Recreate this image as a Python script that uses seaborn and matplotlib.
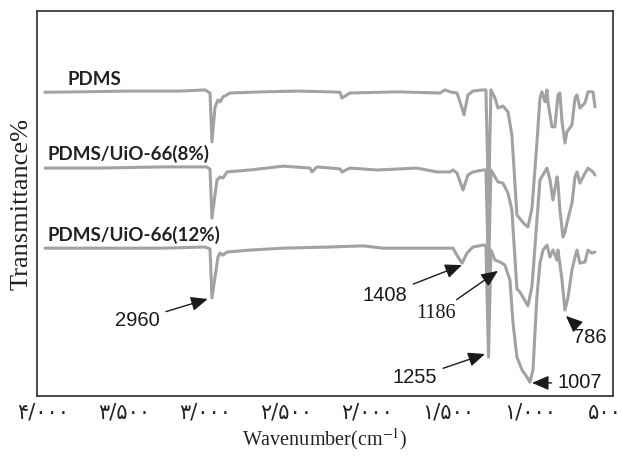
import matplotlib
matplotlib.use("Agg")
import matplotlib.pyplot as plt
import matplotlib.transforms as mtransforms
import pandas as pd
import seaborn as sns

# ---------------- data ----------------
samples = ["PDMS", "PDMS/UiO-66(8%)", "PDMS/UiO-66(12%)"]

pdms_wn = [3988, 3772, 3464, 3156, 3002, 2971, 2959, 2940, 2922, 2909, 2891, 2848, 2645, 2435,
           2232, 2170, 2158, 2109, 1819, 1554, 1523, 1492, 1449, 1418, 1406, 1382, 1351, 1289,
           1271, 1255, 1240, 1215, 1197, 1166, 1135, 1111, 1080, 1061, 1030, 1012, 987, 957,
           938, 926, 907, 895, 889, 864, 846, 827, 815, 802, 784, 772, 741, 722, 710, 692,
           661, 642, 611, 599]
pdms_t = [78.9, 79.0, 79.2, 79.2, 79.5, 78.7, 66.0, 75.1, 76.9, 76.4, 77.7, 78.7, 79.0, 79.2,
          79.0, 78.9, 77.4, 78.7, 79.0, 78.7, 79.5, 79.0, 78.7, 74.8, 73.0, 78.2, 79.2, 79.5,
          79.5, 50.1, 79.5, 77.4, 74.8, 75.3, 73.8, 67.8, 47.0, 46.0, 44.5, 43.9, 48.8, 65.7,
          77.4, 79.0, 76.4, 79.5, 76.4, 69.9, 69.9, 78.2, 78.7, 71.2, 65.7, 68.6, 70.4, 77.4,
          78.2, 74.8, 76.1, 79.0, 79.0, 75.1]

uio8_wn = [3988, 3667, 3261, 2990, 2971, 2959, 2928, 2909, 2891, 2866, 2725, 2521, 2355, 2343,
           2312, 2170, 2158, 2109, 1942, 1696, 1573, 1492, 1474, 1449, 1412, 1382, 1351, 1289,
           1271, 1255, 1240, 1197, 1166, 1135, 1111, 1080, 1061, 1030, 1012, 987, 957, 938,
           895, 876, 858, 833, 827, 815, 796, 784, 772, 741, 722, 710, 692, 673, 642, 611, 599]
uio8_t = [59.2, 59.2, 59.5, 59.5, 58.9, 46.2, 56.1, 56.9, 56.6, 58.2, 58.7, 59.7, 59.2, 58.2,
          59.5, 59.0, 58.2, 59.2, 58.7, 59.2, 58.2, 58.2, 58.7, 57.9, 53.5, 57.4, 58.2, 58.7,
          58.7, 31.9, 58.7, 55.6, 55.3, 52.7, 48.3, 27.8, 27.0, 24.7, 23.4, 28.6, 45.5, 56.1,
          59.2, 56.1, 50.9, 56.9, 55.3, 48.3, 41.3, 42.6, 44.9, 50.1, 56.9, 58.2, 55.3, 56.9,
          59.2, 58.2, 57.4]

uio12_wn = [3988, 3464, 3261, 3002, 2971, 2959, 2922, 2909, 2891, 2866, 2725, 2521, 2232, 2028,
            1905, 1696, 1492, 1474, 1443, 1418, 1388, 1351, 1289, 1271, 1255, 1240, 1215, 1184,
            1154, 1123, 1104, 1080, 1049, 1018, 1000, 981, 957, 938, 919, 895, 876, 858, 833,
            827, 802, 784, 765, 741, 722, 710, 692, 661, 642, 618, 599]
uio12_t = [38.4, 38.4, 38.4, 38.7, 38.2, 25.5, 36.1, 37.1, 36.6, 37.4, 37.9, 38.4, 38.7, 39.0,
           38.4, 38.4, 38.4, 38.4, 36.1, 34.5, 37.1, 38.7, 39.2, 39.2, 10.1, 37.9, 35.3, 34.8,
           34.0, 30.1, 19.0, 10.1, 6.8, 4.9, 3.6, 6.8, 25.7, 34.5, 37.9, 39.2, 36.1, 37.9, 35.3,
           37.9, 30.1, 22.3, 25.7, 32.7, 36.1, 37.9, 34.5, 34.8, 37.9, 37.1, 37.4]

tick_values = [4000, 3500, 3000, 2500, 2000, 1500, 1000, 500]
tick_labels = ["۴/۰۰۰", "۳/۵۰۰", "۳/۰۰۰", "۲/۵۰۰", "۲/۰۰۰", "۱/۵۰۰", "۱/۰۰۰", "۵۰۰"]

peak_labels = ["2960", "1408", "1186", "1255", "1007", "786"]

# ---------------- figure ----------------
sns.set_theme(style="white")
plt.rcParams["mathtext.fontset"] = "stix"

df = pd.concat([
    pd.DataFrame({"wavenumber": pdms_wn, "transmittance": pdms_t, "sample": samples[0]}),
    pd.DataFrame({"wavenumber": uio8_wn, "transmittance": uio8_t, "sample": samples[1]}),
    pd.DataFrame({"wavenumber": uio12_wn, "transmittance": uio12_t, "sample": samples[2]}),
])

fig = plt.figure(figsize=(6.22, 4.57), dpi=100)
ax = fig.add_axes([37 / 622, 1 - 396 / 457, 576 / 622, 385 / 457])

line_grey = "#a2a2a2"
sns.lineplot(data=df, x="wavenumber", y="transmittance", hue="sample",
             palette={s: line_grey for s in samples}, estimator=None, sort=False,
             legend=False, linewidth=2.2, ax=ax)

ax.set_xlim(4037, 488)
ax.set_ylim(0, 100)
ax.set_yticks([])
ax.set_xticks(tick_values)
ax.set_xticklabels(tick_labels, fontsize=15, family=["DejaVu Sans"], color="#222222")
ax.tick_params(axis="x", length=0, pad=5)
# keep the last label inside the figure
last = ax.get_xticklabels()[-1]
last.set_transform(last.get_transform() +
                   mtransforms.ScaledTranslation(-6 / 100, 0, fig.dpi_scale_trans))

for sp in ax.spines.values():
    sp.set_color("#3a3a3a")
    sp.set_linewidth(1.3)

ax.set_xlabel("Wavenumber(cm$^{-1}$)", family="Liberation Serif", fontsize=14.5,
              color="#222222", labelpad=2)
ax.set_ylabel("Transmittance%", family="Liberation Serif", fontsize=19, color="#222222")
ax.yaxis.set_label_coords(-0.008, 0.5)

# sample names
name_kw = dict(family=["Lato", "DejaVu Sans"], fontweight="bold", fontsize=13.5,
               color="#222222", va="center", ha="left")
ax.text(3852, 82.1, samples[0], **name_kw)
ax.text(3975, 62.8, samples[1], **name_kw)
ax.text(3975, 41.8, samples[2], **name_kw)

# peak annotations
arrow = dict(arrowstyle="-|>,head_length=0.7,head_width=0.3", color="#1a1a1a", lw=1.0,
             shrinkA=2, shrinkB=0)
sans = dict(family="Liberation Sans", fontsize=14.5, color="#1a1a1a")
serif = dict(family="Liberation Serif", fontsize=14.5, color="#1a1a1a")

ax.annotate(peak_labels[0], xy=(2985, 25.2), xytext=(3279, 19.7), ha="right", va="center",
            arrowprops=arrow, **sans)
ax.annotate(peak_labels[1], xy=(1419, 34.0), xytext=(1893, 26.2), ha="center", va="center",
            arrowprops=arrow, **sans)
ax.annotate(peak_labels[2], xy=(1197, 32.5), xytext=(1579, 21.3), ha="center", va="center",
            arrowprops=arrow, **serif)
ax.annotate(peak_labels[3], xy=(1277, 10.9), xytext=(1708, 4.7), ha="center", va="center",
            arrowprops=arrow, **sans)
ax.annotate(peak_labels[4], xy=(987, 3.4), xytext=(692, 3.4), ha="center", va="center",
            arrowprops=arrow, **sans)
ax.annotate(peak_labels[5], xy=(778, 20.8), xytext=(630, 15.1), ha="center", va="center",
            arrowprops=arrow, **sans)

fig.savefig("out.png", dpi=100, facecolor="white")
